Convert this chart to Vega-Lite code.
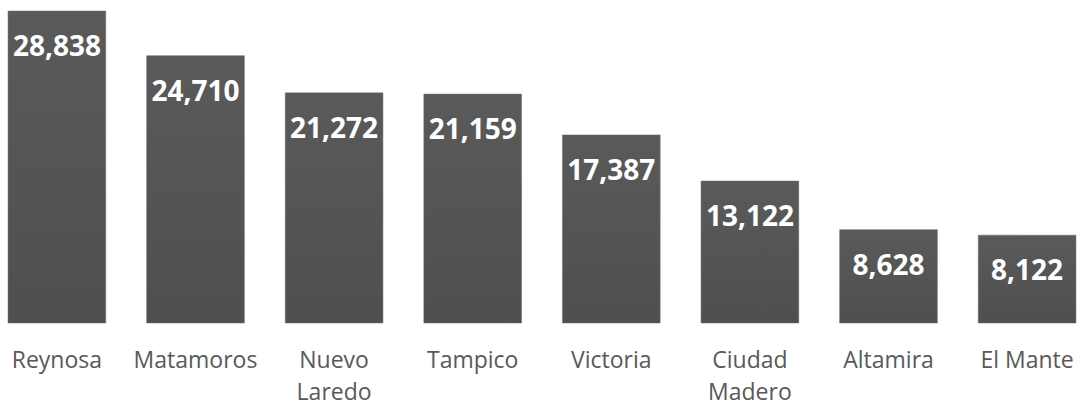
{
  "$schema": "https://vega.github.io/schema/vega-lite/v6.json",
  "width": 1084,
  "height": 323,
  "autosize": {"type": "none"},
  "padding": {"left": 0, "top": 0, "right": 0, "bottom": 82},
  "background": "white",
  "config": {"view": {"stroke": null}},
  "data": {
    "values": [
      {"city": "Reynosa", "value": 28838},
      {"city": "Matamoros", "value": 24710},
      {"city": "Nuevo Laredo", "value": 21272},
      {"city": "Tampico", "value": 21159},
      {"city": "Victoria", "value": 17387},
      {"city": "Ciudad Madero", "value": 13122},
      {"city": "Altamira", "value": 8628},
      {"city": "El Mante", "value": 8122}
    ]
  },
  "encoding": {
    "x": {
      "field": "city",
      "type": "nominal",
      "sort": null,
      "scale": {"paddingInner": 0.295, "paddingOuter": 0.058},
      "axis": {
        "title": null,
        "domain": false,
        "ticks": false,
        "labelAngle": 0,
        "labelFont": "Open Sans",
        "labelFontSize": 23,
        "labelColor": "#595959",
        "labelPadding": 26,
        "labelLineHeight": 32,
        "labelBaseline": "top",
        "labelExpr": "datum.value == 'Nuevo Laredo' ? ['Nuevo', 'Laredo'] : datum.value == 'Ciudad Madero' ? ['Ciudad', 'Madero'] : datum.value"
      }
    },
    "y": {
      "field": "value",
      "type": "quantitative",
      "scale": {"domain": [0, 29855], "nice": false},
      "axis": null
    }
  },
  "layer": [
    {
      "mark": {
        "type": "bar",
        "stroke": "#6a6a6a",
        "strokeWidth": 0.5,
        "color": {
          "gradient": "linear",
          "x1": 0, "y1": 0, "x2": 0, "y2": 1,
          "stops": [
            {"offset": 0, "color": "#5a5a5a"},
            {"offset": 1, "color": "#4f4f4f"}
          ]
        }
      }
    },
    {
      "mark": {
        "type": "text",
        "baseline": "alphabetic",
        "dy": 45,
        "font": "Open Sans",
        "fontWeight": "bold",
        "fontSize": 28,
        "color": "white"
      },
      "encoding": {
        "text": {"field": "value", "type": "quantitative", "format": ","}
      }
    }
  ]
}
